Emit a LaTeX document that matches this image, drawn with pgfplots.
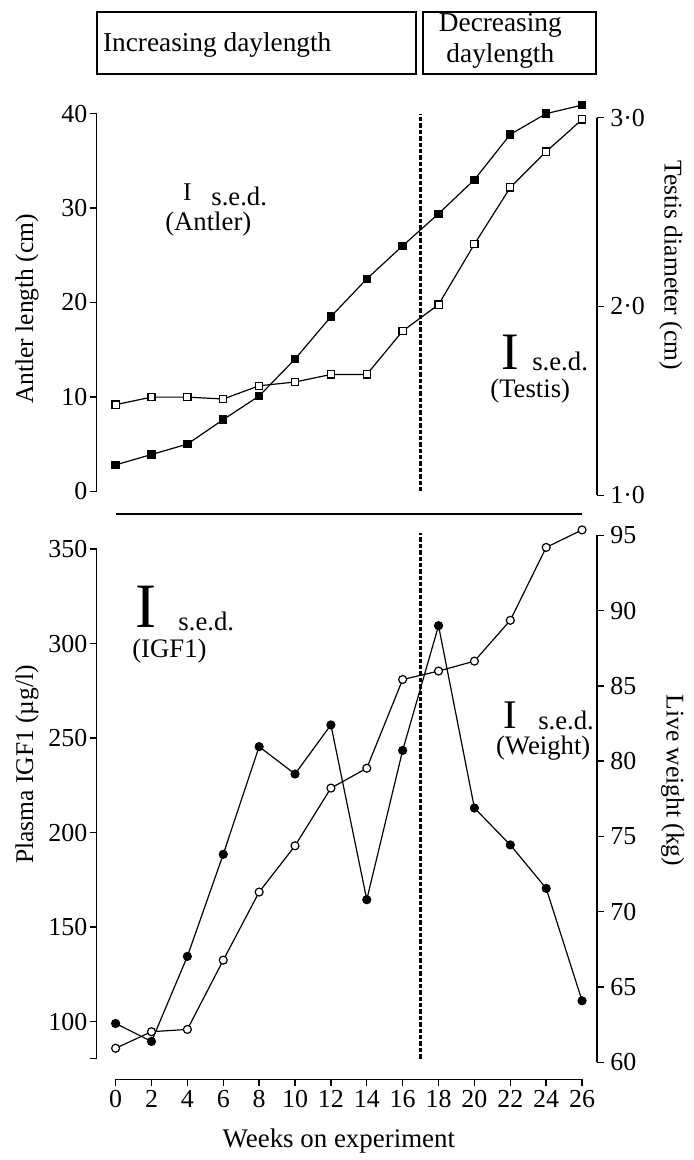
\documentclass[border=0pt]{standalone}
\usepackage{fontspec}
\setmainfont{Liberation Serif}
\usepackage{pgfplots}
\pgfplotsset{compat=1.18}
\newcommand\fs[1]{\fontsize{#1}{#1}\selectfont}
\begin{document}
\begin{tikzpicture}
\path (0pt,0pt) rectangle (348pt,580pt);
\pgfplotsset{
  base/.style={scale only axis, clip=false, axis x line=none, xtick=\empty,
    anchor=south west,
    tick align=outside, major tick length=3.5pt,
    axis line style={line width=0.8pt},
    major tick style={line width=0.7pt,black},
    /pgf/number format/assume math mode=true,
    yticklabel style={font=\fs{13}},
    xmin=-1.056, xmax=26.833, width=251pt,
  },
  leftax/.style={axis y line*=left, yticklabel style={inner sep=1pt}},
  rightax/.style={axis y line*=right, yticklabel style={inner sep=3pt}},
  ser/.style={black, line width=0.6pt},
  dsh/.style={black, line width=1.2pt, dash pattern=on 2.2pt off 1pt, no marks},
}
% ---------- top panel: antler (left axis)
\begin{axis}[base, leftax, at={(48.5pt,333.5pt)}, height=189.5pt,
  ymin=0, ymax=40, ytick={0,10,20,30,40}]
\addplot[ser, mark=square*, mark size=1.8pt, mark options={solid, fill=black}] coordinates {
(0,2.8) (2,3.9) (4,5.0) (6,7.6) (8,10.1) (10,14.0) (12,18.5) (14,22.5)
(16,26.0) (18,29.4) (20,33.0) (22,37.8) (24,40.0) (26,40.9)};
\addplot[dsh] coordinates {(17,0) (17,40)};
\addplot[black, line width=1pt, no marks] coordinates {(0,-2.43) (26,-2.43)};
\end{axis}
% ---------- top panel: testis (right axis)
\begin{axis}[base, rightax, at={(48.5pt,331.5pt)}, height=189.5pt,
  ymin=1, ymax=3, ytick={1,2,3}, yticklabels={\mbox{1·0},\mbox{2·0},\mbox{3·0}}]
\addplot[ser, mark=square*, mark size=1.8pt, mark options={solid, fill=white}] coordinates {
(0,1.48) (2,1.52) (4,1.52) (6,1.51) (8,1.58) (10,1.60) (12,1.64) (14,1.64)
(16,1.87) (18,2.01) (20,2.33) (22,2.63) (24,2.82) (26,2.99)};
\end{axis}
% ---------- bottom panel: IGF1 (left axis)
\begin{axis}[base, leftax, at={(48.5pt,49pt)}, height=255.5pt,
  ymin=80.5, ymax=350, ytick={80.5,100,150,200,250,300,350},
  yticklabels={,100,150,200,250,300,350}]
\addplot[ser, mark=*, mark size=2pt, mark options={solid, fill=black}] coordinates {
(0,99) (2,89.5) (4,134.5) (6,188.5) (8,245.5) (10,231) (12,257) (14,164.5)
(16,243.5) (18,309.5) (20,213) (22,193.5) (24,170.5) (26,111)};
\end{axis}
% ---------- bottom panel: weight (right axis)
\begin{axis}[base, rightax, at={(48.5pt,47pt)}, height=264.5pt,
  ymin=60, ymax=95, ytick={60,65,70,75,80,85,90,95}]
\addplot[ser, mark=*, mark size=2pt, mark options={solid, fill=white}] coordinates {
(0,60.94) (2,62.04) (4,62.19) (6,66.79) (8,71.31) (10,74.38) (12,78.21) (14,79.53)
(16,85.42) (18,85.98) (20,86.64) (22,89.35) (24,94.19) (26,95.35)};
\addplot[dsh] coordinates {(17,60.26) (17,95.13)};
\end{axis}
% ---------- x axis
\begin{axis}[scale only axis, anchor=south west, at={(58pt,38.5pt)}, width=234pt, height=10pt,
  xmin=0, xmax=26, ymin=0, ymax=1, axis x line*=bottom, axis y line=none, ytick=\empty,
  xtick={0,2,...,26}, tick align=outside, major tick length=3.5pt,
  axis line style={line width=0.8pt}, major tick style={line width=0.7pt,black},
  /pgf/number format/assume math mode=true,
  xticklabel style={font=\fs{13}, inner sep=2pt}]
\end{axis}
% ---------- labels
\node[rotate=90, font=\fs{12.8}] at (13.5pt,425pt) {Antler length (cm)};
\node[rotate=-90, font=\fs{12.8}] at (336.5pt,447pt) {Testis diameter (cm)};
\node[rotate=90, font=\fs{12.8}] at (13.5pt,196.5pt) {Plasma IGF1 (µg/l)};
\node[rotate=-90, font=\fs{12.8}] at (337.5pt,188.5pt) {Live weight (kg)};
\node[font=\fs{13.5}] at (170pt,7.5pt) {Weeks on experiment};
% ---------- s.e.d. annotations
\node[inner sep=0, font=\fs{12.8}] at (94pt,483.5pt) {I};
\node[inner sep=0, font=\fs{13.4}] at (120pt,481.5pt) {s.e.d.};
\node[inner sep=0, font=\fs{13.4}] at (104.5pt,467.5pt) {(Antler)};
\node[inner sep=0, font=\fs{26.4}] at (256pt,403.5pt) {I};
\node[inner sep=0, font=\fs{13.4}] at (281pt,398.5pt) {s.e.d.};
\node[inner sep=0, font=\fs{13.4}] at (266pt,384pt) {(Testis)};
\node[inner sep=0, font=\fs{31.7}] at (73.5pt,275.5pt) {I};
\node[inner sep=0, font=\fs{13.4}] at (103.5pt,268pt) {s.e.d.};
\node[inner sep=0, font=\fs{13.4}] at (85pt,253.5pt) {(IGF1)};
\node[inner sep=0, font=\fs{20.4}] at (256pt,221pt) {I};
\node[inner sep=0, font=\fs{13.4}] at (284pt,218.5pt) {s.e.d.};
\node[inner sep=0, font=\fs{13.4}] at (272.5pt,204.5pt) {(Weight)};
% ---------- daylength boxes
\draw[line width=1pt] (48.5pt,543pt) rectangle (208.5pt,574pt);
\draw[line width=1pt] (212pt,543pt) rectangle (299pt,574pt);
\node[anchor=west, inner sep=0, font=\fs{13.7}] at (51.5pt,557.5pt) {Increasing daylength};
\node[inner sep=0, font=\fs{13.7}] at (251pt,567pt) {Decreasing};
\node[inner sep=0, font=\fs{13.7}] at (251pt,552pt) {daylength};
\end{tikzpicture}
\end{document}
